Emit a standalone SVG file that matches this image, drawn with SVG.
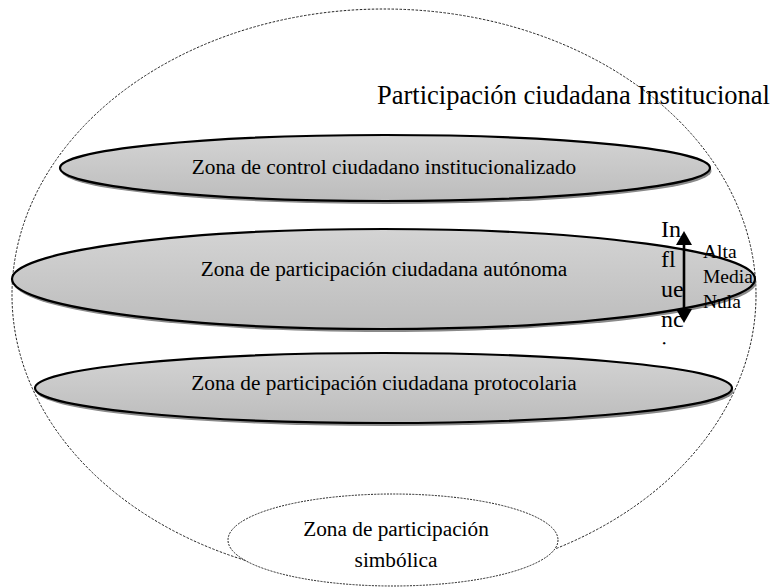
<svg xmlns="http://www.w3.org/2000/svg" width="774" height="588" viewBox="0 0 774 588">
  <defs>
    <linearGradient id="zoneFill" x1="0" y1="0" x2="0" y2="1">
      <stop offset="0" stop-color="#d4d4d4"/>
      <stop offset="1" stop-color="#bcbcbc"/>
    </linearGradient>
    <filter id="soft" x="-5%" y="-20%" width="110%" height="140%">
      <feGaussianBlur stdDeviation="0.7"/>
    </filter>
    <clipPath id="influenceClip">
      <rect x="640" y="200" width="60" height="145.5"/>
    </clipPath>
    <style>
      .frame { fill: none; stroke: #222; stroke-width: 1; stroke-dasharray: 2.5 1.5; }
      .zone { fill: url(#zoneFill); stroke: #000; stroke-width: 2.2; }
      .shadow { fill: #8a8a8a; filter: url(#soft); }
      .open { fill: #fff; stroke: #222; stroke-width: 1; stroke-dasharray: 2 1.2; }
      text { font-family: "Liberation Serif", "Times New Roman", serif; fill: #000; }
      .label { font-size: 21.3px; text-anchor: middle; }
      .title { font-size: 26.5px; }
      .vert { font-size: 24px; }
      .level { font-size: 19.5px; }
    </style>
  </defs>

  <rect width="774" height="588" fill="#fff"/>

  <!-- outer dotted boundary -->
  <g id="institucional">
    <ellipse class="frame" cx="384" cy="295" rx="372" ry="286"/>
    <text class="title" x="377" y="104">Participación ciudadana Institucional</text>
  </g>

  <g id="zona-control">
    <ellipse class="shadow" cx="386.5" cy="171" rx="325" ry="33"/>
    <ellipse class="zone" cx="385" cy="168" rx="325" ry="33"/>
    <text class="label" x="384" y="174">Zona de control ciudadano institucionalizado</text>
  </g>

  <g id="zona-autonoma">
    <ellipse class="shadow" cx="385" cy="282" rx="371.5" ry="50"/>
    <ellipse class="zone" cx="383.5" cy="279" rx="371.5" ry="50"/>
    <text class="label" x="384" y="276">Zona de participación ciudadana autónoma</text>
  </g>

  <g id="zona-protocolaria">
    <ellipse class="shadow" cx="385" cy="391" rx="348.5" ry="35"/>
    <ellipse class="zone" cx="383.5" cy="388" rx="348.5" ry="35"/>
    <text class="label" x="384" y="390">Zona de participación ciudadana protocolaria</text>
  </g>

  <g id="zona-simbolica">
    <ellipse class="open" cx="393" cy="540" rx="165" ry="46"/>
    <text class="label" x="396" y="536">Zona de participación</text>
    <text class="label" x="396" y="567">simbólica</text>
  </g>

  <!-- influence scale: wrapped label, double arrow and levels -->
  <g id="influencia">
    <g clip-path="url(#influenceClip)">
      <text class="vert" x="661" y="237">In</text>
      <text class="vert" x="661" y="267">fl</text>
      <text class="vert" x="661" y="297">ue</text>
      <text class="vert" x="661" y="327">nc</text>
      <text class="vert" x="661" y="357">ia</text>
    </g>
  </g>

  <g id="connectors">
    <line x1="684" y1="244" x2="684" y2="310" stroke="#000" stroke-width="2.6"/>
    <polygon points="684,231 692,245 676,245" fill="#000"/>
    <polygon points="684,323 692,309 676,309" fill="#000"/>
  </g>

  <g id="niveles">
    <text class="level" x="703" y="258">Alta</text>
    <text class="level" x="703" y="283">Media</text>
    <text class="level" x="703" y="308">Nula</text>
  </g>
</svg>
